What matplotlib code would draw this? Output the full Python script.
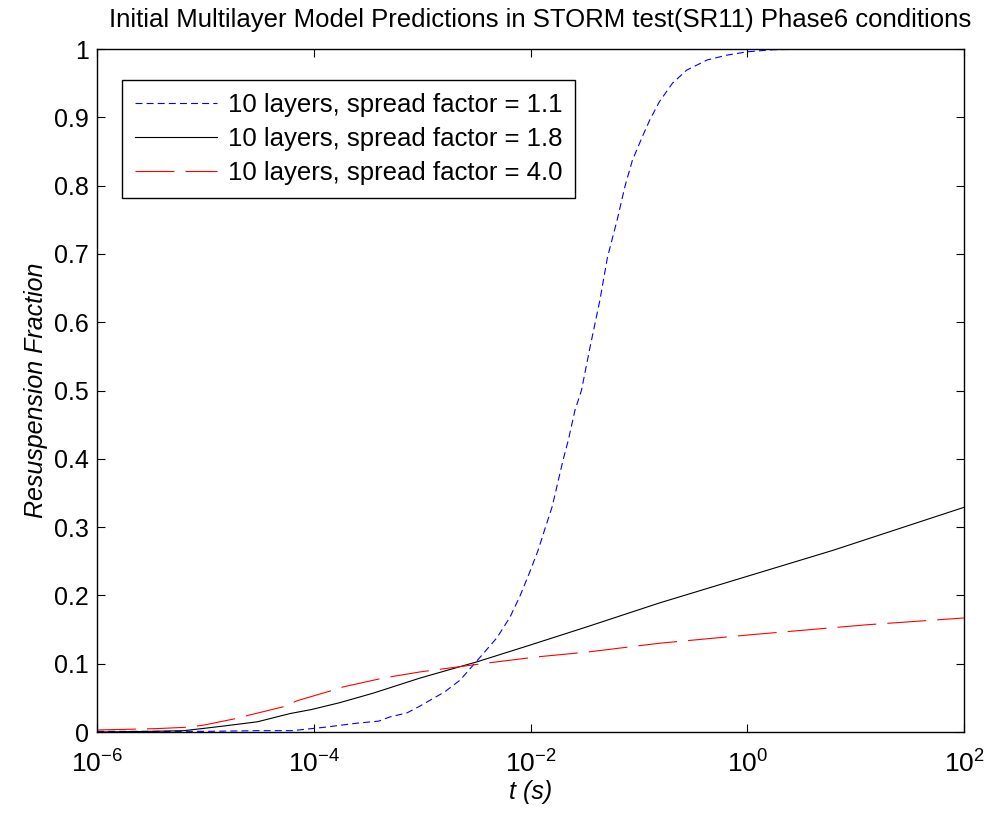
import matplotlib
matplotlib.use('Agg')
import matplotlib.pyplot as plt
import matplotlib.ticker as ticker
import numpy as np

plt.rcParams['font.family'] = ['Liberation Sans', 'DejaVu Sans']
plt.rcParams['mathtext.fontset'] = 'custom'
plt.rcParams['mathtext.rm'] = 'Liberation Sans'
plt.rcParams['mathtext.it'] = 'Liberation Sans:italic'
plt.rcParams['lines.scale_dashes'] = False

# log10(t) and resuspension fraction
logt_11 = [-6, -5, -4.5, -4.2, -3.9, -3.6, -3.4, -3.3, -3.14, -3.02, -2.79, -2.65, -2.49,
           -2.31, -2.19, -2.10, -2.01, -1.93, -1.87, -1.80, -1.75, -1.70, -1.65, -1.59,
           -1.53, -1.45, -1.36, -1.29, -1.20, -1.13, -1.06, -0.97, -0.90, -0.81, -0.69,
           -0.56, -0.37, -0.19, 0.0, 0.24, 0.6, 1.0, 2.0]
frac_11 = [0.001, 0.001, 0.002, 0.002, 0.007, 0.013, 0.016, 0.022, 0.028, 0.038, 0.059,
           0.076, 0.105, 0.138, 0.168, 0.198, 0.233, 0.266, 0.296, 0.330, 0.364, 0.398,
           0.428, 0.471, 0.500, 0.564, 0.632, 0.695, 0.750, 0.798, 0.837, 0.871, 0.896,
           0.923, 0.950, 0.969, 0.984, 0.991, 0.996, 0.999, 1.0, 1.0, 1.0]

logt_18 = [-6, -5.5, -5.2, -4.98, -4.77, -4.52, -4.22, -4.02, -3.76, -3.45, -3.02, -2.49,
           -2.01, -1.48, -0.81, 0.0, 0.79, 2.0]
frac_18 = [0.0, 0.001, 0.002, 0.006, 0.010, 0.015, 0.027, 0.033, 0.043, 0.057, 0.079, 0.103,
           0.127, 0.154, 0.189, 0.228, 0.266, 0.329]

logt_40 = [-6, -5.45, -5.17, -5.02, -4.71, -4.59, -4.28, -4.15, -3.85, -3.73, -3.36, -3.02,
           -2.40, -1.94, -1.48, -0.81, 0.0, 1.1, 2.0]
frac_40 = [0.003, 0.005, 0.007, 0.010, 0.020, 0.025, 0.037, 0.046, 0.060, 0.066, 0.079, 0.088,
           0.101, 0.110, 0.117, 0.130, 0.142, 0.157, 0.167]

labels = ['10 layers, spread factor = 1.1',
          '10 layers, spread factor = 1.8',
          '10 layers, spread factor = 4.0']

fig = plt.figure(figsize=(9.88, 8.16), dpi=100)
ax = fig.add_axes([0.0982, 0.1029, 0.8775, 0.837])

ax.plot(10.0 ** np.array(logt_11), frac_11, color='#0000ff', lw=0.8, dashes=(5, 3), label=labels[0])
ax.plot(10.0 ** np.array(logt_18), frac_18, color='black', lw=0.8, label=labels[1])
ax.plot(10.0 ** np.array(logt_40), frac_40, color='#ff0000', lw=0.8, dashes=(28, 8), label=labels[2])

ax.set_xscale('log')
ax.set_xlim(1e-6, 1e2)
ax.set_ylim(0, 1)
ax.set_xticks([1e-6, 1e-4, 1e-2, 1e0, 1e2])
ax.xaxis.set_minor_locator(ticker.NullLocator())
ax.xaxis.set_major_formatter(ticker.FuncFormatter(lambda v, p: r'$\mathregular{10^{%d}}$' % round(np.log10(v))))
ax.set_yticks(np.arange(0, 1.01, 0.1))
ax.yaxis.set_major_formatter(ticker.FuncFormatter(lambda v, p: '%g' % round(v, 1)))

ax.tick_params(direction='in', top=True, right=True, length=6, width=0.8, labelsize=18, pad=6)
ax.tick_params(axis='x', pad=13, labelsize=19)
for s in ax.spines.values():
    s.set_linewidth(1.0)

ax.set_xlabel('t (s)', fontsize=18, style='italic', labelpad=2)
ax.set_ylabel('Resuspension Fraction', fontsize=18, style='italic', labelpad=4)
ax.set_title('Initial Multilayer Model Predictions in STORM test(SR11) Phase6 conditions',
             fontsize=18.5, pad=16, x=0.511)

leg = ax.legend(loc='upper left', bbox_to_anchor=(0.029, 0.955), fontsize=18.5, fancybox=False,
                framealpha=1, edgecolor='black', handlelength=3.2, borderpad=0.5,
                labelspacing=0.4, handletextpad=0.4, borderaxespad=0)
leg.get_frame().set_linewidth(1.0)

fig.savefig('out.png', dpi=100)
